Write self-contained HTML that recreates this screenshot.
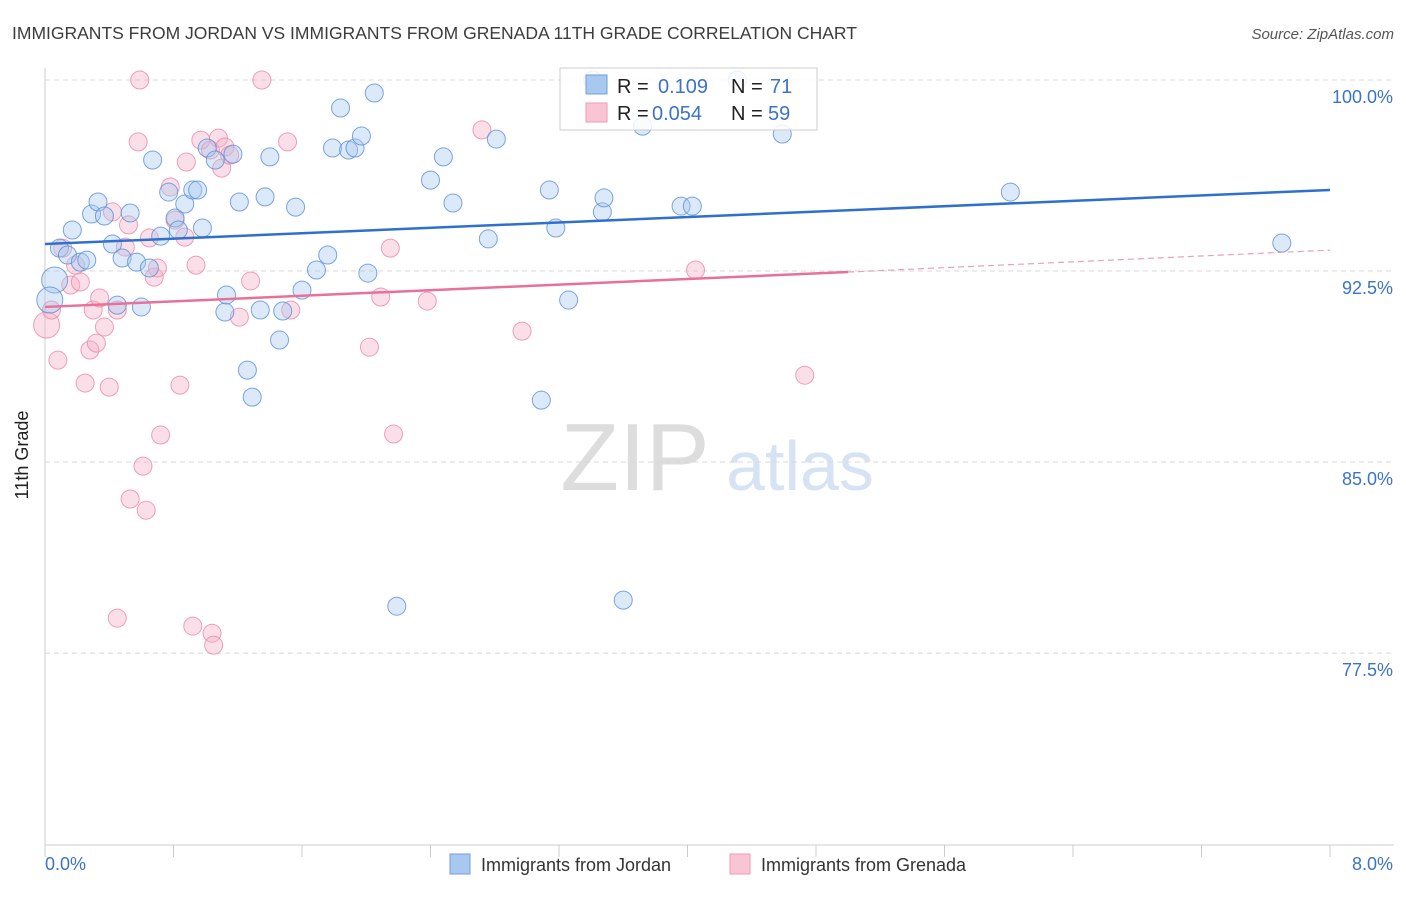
<!DOCTYPE html>
<html><head><meta charset="utf-8"><style>
body{margin:0;background:#fff;font-family:"Liberation Sans",sans-serif}
svg text{font-family:"Liberation Sans",sans-serif}
</style></head><body>
<svg id="chart" width="1406" height="892" xmlns="http://www.w3.org/2000/svg">
<text x="12" y="39" font-size="17.5" fill="#3c3c3c">IMMIGRANTS FROM JORDAN VS IMMIGRANTS FROM GRENADA 11TH GRADE CORRELATION CHART</text>
<text x="1394" y="39" font-size="15" fill="#555" font-style="italic" text-anchor="end">Source: ZipAtlas.com</text>
<g><text x="635" y="490" font-size="96" fill="#ddd" font-family="Liberation Serif" text-anchor="middle">ZIP</text><text x="800" y="490" font-size="70" fill="#d5e3f5" text-anchor="middle">atlas</text></g>
<g id="grid"></g><g id="axes"></g><g id="marks"></g><g id="lines"></g>
<g>
<rect x="560" y="68" width="257" height="62" fill="#fff" stroke="#ccc" fill-opacity="0.85"/>
<rect x="586" y="75" width="21" height="19" fill="#a8c8f0" stroke="#6f9edc"/>
<text x="617" y="93" font-size="20" fill="#222">R =</text><text x="658" y="93" font-size="20" fill="#3b73c9">0.109</text>
<text x="731" y="93" font-size="20" fill="#222">N =</text><text x="770" y="93" font-size="20" fill="#3b73c9">71</text>
<rect x="586" y="103" width="21" height="19" fill="#f9c5d3" stroke="#ee9ab5"/>
<text x="617" y="120" font-size="20" fill="#222">R =</text><text x="652" y="120" font-size="20" fill="#3b73c9">0.054</text>
<text x="731" y="120" font-size="20" fill="#222">N =</text><text x="768" y="120" font-size="20" fill="#3b73c9">59</text>
</g>
<g>
<rect x="450" y="854" width="20" height="20" fill="#a8c8f0" stroke="#6f9edc"/>
<text x="481" y="871" font-size="18" fill="#333">Immigrants from Jordan</text>
<rect x="730" y="854" width="20" height="20" fill="#f9c5d3" stroke="#ee9ab5"/>
<text x="761" y="871" font-size="18" fill="#333">Immigrants from Grenada</text>
</g>
<text x="28" y="455" font-size="18" fill="#222" text-anchor="middle" transform="rotate(-90 28 455)">11th Grade</text>
</svg>
<script>
const yTicks=[100,92.5,85,77.5];
const yTickLabels=["100.0%","92.5%","85.0%","77.5%"];
const jordanX=[0.06,0.03,0.09,0.14,0.17,0.22,0.26,0.29,0.33,0.37,0.42,0.45,0.48,0.53,0.57,0.60,0.65,0.67,0.72,0.77,0.81,0.83,0.87,0.92,0.95,0.98,1.01,1.06,1.12,1.13,1.17,1.21,1.26,1.29,1.34,1.37,1.40,1.46,1.48,1.56,1.60,1.69,1.76,1.79,1.84,1.89,1.93,1.97,2.01,2.05,2.19,2.40,2.48,2.54,2.76,2.81,3.09,3.14,3.18,3.26,3.47,3.48,3.60,3.72,3.96,4.03,4.59,6.01,7.70,3.41,4.31];
const jordanY=[92.15,91.36,93.40,93.13,94.11,92.85,92.93,94.74,95.21,94.66,93.56,91.16,93.01,94.78,92.85,91.09,92.62,96.86,93.87,95.60,94.58,94.11,95.13,95.68,95.68,94.19,97.33,96.86,90.89,91.56,97.09,95.21,88.61,87.55,90.97,95.41,96.98,89.79,90.93,95.01,91.75,92.54,93.13,97.33,98.90,97.25,97.33,97.80,92.42,99.49,79.34,96.07,96.98,95.17,93.76,97.68,87.43,95.68,94.19,91.36,94.82,95.37,79.58,98.19,95.05,95.05,97.88,95.60,93.60,100,100];
const grenadaX=[0.01,0.04,0.08,0.11,0.16,0.19,0.22,0.25,0.28,0.30,0.32,0.34,0.37,0.40,0.42,0.45,0.45,0.50,0.52,0.53,0.58,0.59,0.61,0.63,0.65,0.68,0.70,0.72,0.78,0.81,0.84,0.87,0.88,0.92,0.94,0.97,1.03,1.04,1.05,1.08,1.10,1.12,1.15,1.21,1.28,1.35,1.51,1.53,2.02,2.09,2.15,2.17,2.38,2.72,2.97,4.05,4.73];
const grenadaY=[90.38,90.97,89.00,93.40,91.95,92.73,92.07,88.10,89.40,90.97,89.67,91.44,90.30,87.94,94.82,90.97,78.87,93.44,94.31,83.55,97.57,100,84.84,83.11,93.80,92.26,92.62,86.06,95.80,94.50,88.02,93.83,96.78,78.56,92.73,97.64,97.25,78.28,77.81,97.72,96.54,97.37,97.05,90.69,92.11,100,97.57,90.97,89.51,91.48,93.40,86.10,91.32,98.04,90.14,92.54,88.41];
const jordanTrend=[93.56,95.68];
const grenadaTrend=[91.09,92.46,93.32];
const X0=45,X1=1330,Y100=80,PPU=25.47;
const sx=v=>X0+(v/8)*(X1-X0);
const sy=v=>Y100+(100-v)*PPU;
const NS="http://www.w3.org/2000/svg";
function mk(tag,attrs,parent){const e=document.createElementNS(NS,tag);for(const k in attrs)e.setAttribute(k,attrs[k]);parent.appendChild(e);return e;}
const grid=document.getElementById('grid'),axes=document.getElementById('axes'),marks=document.getElementById('marks'),lines=document.getElementById('lines');
yTicks.forEach((t,i)=>{
 const l=mk('line',{x1:X0,x2:1394,y1:sy(t),y2:sy(t),stroke:'#d8d8d8','stroke-dasharray':'5,4'},grid);
 
 
 const tx=mk('text',{x:1393,y:sy(t)+23,'font-size':18,fill:'#3b73c9','text-anchor':'end'},axes);
 tx.textContent=yTickLabels[i];
 
 
});
const ax=mk('line',{x1:X0,x2:X0,y1:68,y2:845,stroke:'#ccc'},axes);


const bx=mk('line',{x1:X0,x2:1394,y1:845,y2:845,stroke:'#ccc'},axes);


for(let i=0;i<=10;i++){
 const t=mk('line',{x1:sx(i*0.8),x2:sx(i*0.8),y1:845,y2:857,stroke:'#ccc'},axes);
 
 
}
const xl0=mk('text',{x:45,y:870,'font-size':18,fill:'#3b73c9'},axes);xl0.textContent='0.0%';


const xl1=mk('text',{x:1393,y:870,'font-size':18,fill:'#3b73c9','text-anchor':'end'},axes);xl1.textContent='8.0%';


function dots(xs,ys,fill,stroke,name){
 xs.forEach((x,i)=>{
  const r=(i<2&&name==='jordan-point')||(i===0&&name==='grenada-point')?13:9;
  const c=mk('circle',{cx:sx(x),cy:sy(ys[i]),r:r,fill:fill,'fill-opacity':0.4,stroke:stroke,'stroke-opacity':0.8,'stroke-width':1},marks);
  
  
 });
}
dots(grenadaX,grenadaY,'#f4b0c6','#e889a8','grenada-point');
dots(jordanX,jordanY,'#a8c8f0','#5b8fd6','jordan-point');
const bl=mk('line',{x1:sx(0),y1:sy(jordanTrend[0]),x2:sx(8),y2:sy(jordanTrend[1]),stroke:'#2f6fd0','stroke-width':2.5},lines);


const pl=mk('line',{x1:sx(0),y1:sy(grenadaTrend[0]),x2:sx(5),y2:sy(grenadaTrend[1]),stroke:'#e8709a','stroke-width':2.5},lines);


const pd=mk('line',{x1:sx(5),y1:sy(grenadaTrend[1]),x2:sx(8),y2:sy(grenadaTrend[2]),stroke:'#e8a0b8','stroke-width':1.2,'stroke-dasharray':'6,4'},lines);


</script>
</body></html>
